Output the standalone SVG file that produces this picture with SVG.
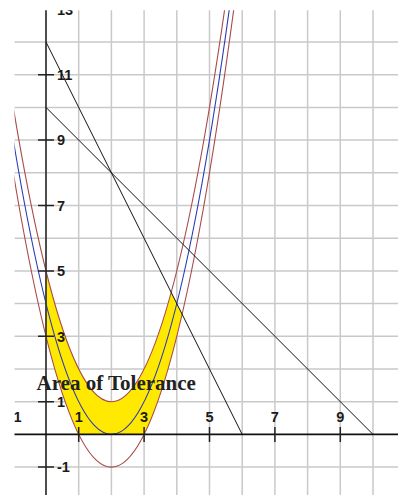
<svg xmlns="http://www.w3.org/2000/svg" width="398" height="495" viewBox="0 0 398 495">
<style>
.grid line{stroke:#c9c9c9;stroke-width:1.5}
.crv{fill:none;stroke-width:1.1}
.red{stroke:#a84a4a}
.blue{stroke:#2c3cb4}
.ln{stroke:#111;stroke-width:1;fill:none}
.tick{stroke:#222;stroke-width:1.5}
.lbl{font-family:"Liberation Sans",Arial,sans-serif;font-weight:bold;font-size:14.5px;fill:#1a1a1a}
.xl{text-anchor:middle}
.title{font-family:"Liberation Serif","Times New Roman",serif;font-weight:bold;font-size:21px;fill:#222}
</style>
<defs>
<clipPath id="plot"><rect x="14.5" y="10.3" width="384" height="485"/></clipPath>
</defs>
<rect width="398" height="495" fill="#fff"/>
<g clip-path="url(#plot)">
<g id="grid" class="grid">
<line x1="78.7" y1="10" x2="78.7" y2="495"/>
<line x1="111.4" y1="10" x2="111.4" y2="495"/>
<line x1="144.1" y1="10" x2="144.1" y2="495"/>
<line x1="176.8" y1="10" x2="176.8" y2="495"/>
<line x1="209.5" y1="10" x2="209.5" y2="495"/>
<line x1="242.2" y1="10" x2="242.2" y2="495"/>
<line x1="274.9" y1="10" x2="274.9" y2="495"/>
<line x1="307.6" y1="10" x2="307.6" y2="495"/>
<line x1="340.3" y1="10" x2="340.3" y2="495"/>
<line x1="373" y1="10" x2="373" y2="495"/>
<line x1="14" y1="42" x2="398" y2="42"/>
<line x1="14" y1="74.7" x2="398" y2="74.7"/>
<line x1="14" y1="107.4" x2="398" y2="107.4"/>
<line x1="14" y1="140.1" x2="398" y2="140.1"/>
<line x1="14" y1="172.8" x2="398" y2="172.8"/>
<line x1="14" y1="205.5" x2="398" y2="205.5"/>
<line x1="14" y1="238.2" x2="398" y2="238.2"/>
<line x1="14" y1="270.9" x2="398" y2="270.9"/>
<line x1="14" y1="303.6" x2="398" y2="303.6"/>
<line x1="14" y1="336.3" x2="398" y2="336.3"/>
<line x1="14" y1="369" x2="398" y2="369"/>
<line x1="14" y1="401.7" x2="398" y2="401.7"/>
<line x1="14" y1="467.1" x2="398" y2="467.1"/>
</g>
<path id="tolerance" d="M46,270.9 Q108.6,521.3 171.2,292.4 L182.1,314.2 Q163.1,396.4 144.1,434.4 L78.7,434.4 Q62.35,401.7 46,336.3 Z" fill="#ffe900"/>
<g id="curves">
<path class="crv red" d="M13.3,107.4 Q118.99,741.5 224.67,9.3"/>
<path class="crv blue" d="M13.3,140.1 Q121.3,788.1 229.3,9.3"/>
<path class="crv red" d="M13.3,172.8 Q123.53,834.2 233.76,9.3"/>
</g>
<g id="axes">
<line x1="46" y1="10" x2="46" y2="495" stroke="#3a3a3a" stroke-width="1.8"/>
<line x1="14" y1="434.4" x2="398" y2="434.4" stroke="#111" stroke-width="1.8"/>
</g>
<g id="connectors">
<line class="ln" x1="46" y1="42" x2="242.2" y2="434.4"/>
<line class="ln" x1="46" y1="107.4" x2="373" y2="434.4"/>
</g>
<g id="ticks" class="tick">
<line x1="38" y1="74.7" x2="54" y2="74.7"/>
<line x1="38" y1="140.1" x2="54" y2="140.1"/>
<line x1="38" y1="205.5" x2="54" y2="205.5"/>
<line x1="38" y1="270.9" x2="54" y2="270.9"/>
<line x1="38" y1="336.3" x2="54" y2="336.3"/>
<line x1="38" y1="401.7" x2="54" y2="401.7"/>
<line x1="38" y1="467.1" x2="54" y2="467.1"/>
<line x1="78.7" y1="427" x2="78.7" y2="442"/>
<line x1="144.1" y1="427" x2="144.1" y2="442"/>
<line x1="209.5" y1="427" x2="209.5" y2="442"/>
<line x1="274.9" y1="427" x2="274.9" y2="442"/>
<line x1="340.3" y1="427" x2="340.3" y2="442"/>
</g>
<g id="ylabels" class="lbl">
<text x="57" y="14.5">13</text>
<text x="57" y="79.9">11</text>
<text x="57" y="145.3">9</text>
<text x="57" y="210.7">7</text>
<text x="57" y="276.1">5</text>
<text x="57" y="341.5">3</text>
<text x="57" y="406.9">1</text>
<text x="57" y="472.3">-1</text>
</g>
<g id="xlabels" class="lbl xl">
<text x="17.5" y="421.5">1</text>
<text x="78.7" y="421.5">1</text>
<text x="144.1" y="421.5">3</text>
<text x="209.5" y="421.5">5</text>
<text x="274.9" y="421.5">7</text>
<text x="340.3" y="421.5">9</text>
</g>
</g>
<text id="area-label" class="title" x="36.5" y="390">Area of Tolerance</text>
</svg>
